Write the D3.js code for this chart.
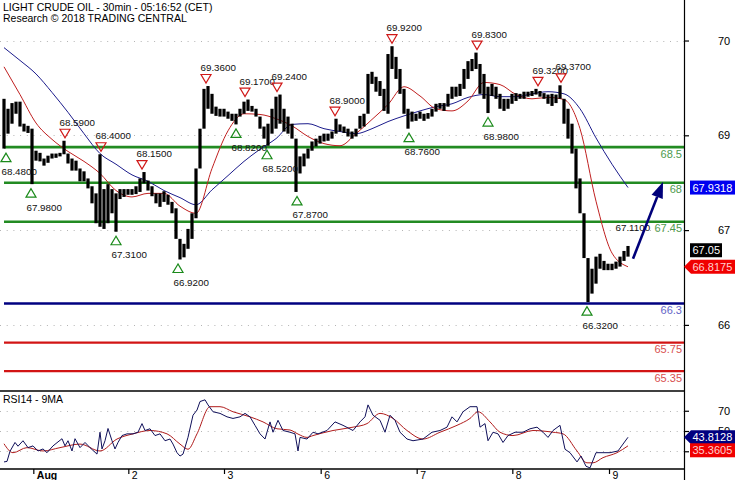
<!DOCTYPE html>
<html><head><meta charset="utf-8">
<script src="https://cdn.jsdelivr.net/npm/d3@7"></script>
<style>body{margin:0;background:#fff}svg{display:block}text{font-family:"Liberation Sans",Arial,sans-serif}</style>
</head><body><svg id="c" width="735" height="480"></svg>
<script>
// ---------------- DATA ----------------
const titleLine1 = "LIGHT CRUDE OIL - 30min - 05:16:52 (CET)";
const titleLine2 = "Research \u00A9 2018 TRADING CENTRAL";
const rsiTitle = "RSI14 - 9MA";
// price bars (2 x 30min bars per sample): highs and lows
const priceHi = [69.18,69.04,69.12,69.14,69.14,68.83,68.80,68.76,68.45,68.42,68.34,68.38,68.41,68.41,68.42,68.59,68.41,68.34,68.31,68.20,68.16,68.06,67.95,67.85,68.40,67.91,67.98,67.91,67.85,67.91,67.91,67.91,67.91,67.95,68.06,68.15,68.03,67.95,67.85,67.85,67.88,67.83,67.73,67.64,67.21,67.14,67.35,67.57,68.20,68.76,69.32,69.36,69.25,69.07,69.04,69.04,69.00,68.97,68.97,69.04,69.14,69.17,69.08,69.04,68.93,68.79,68.83,69.04,69.21,69.24,69.04,68.93,68.83,68.62,68.37,68.41,68.48,68.58,68.62,68.66,68.69,68.69,68.72,68.90,68.82,68.79,68.76,68.72,68.76,68.94,68.97,69.53,69.56,69.49,69.43,69.32,69.81,69.92,69.77,69.60,69.32,69.04,69.00,68.97,69.00,68.97,68.98,69.04,69.11,69.12,69.12,69.25,69.35,69.35,69.39,69.60,69.71,69.74,69.83,69.67,69.53,69.35,69.39,69.35,69.25,69.18,69.18,69.25,69.26,69.25,69.28,69.28,69.29,69.32,69.29,69.26,69.24,69.25,69.24,69.37,69.18,69.04,68.83,68.48,68.06,67.57,66.94,66.79,66.96,67.00,66.90,66.86,66.86,66.89,66.96,67.04,67.11];
const priceLo = [68.48,68.69,68.83,68.97,68.79,68.72,68.70,67.98,68.31,68.30,68.24,68.28,68.34,68.35,68.37,68.40,68.27,68.17,68.17,68.02,68.02,67.92,67.71,67.43,67.38,67.35,67.43,67.57,67.31,67.77,67.80,67.83,67.83,67.84,67.87,67.99,67.89,67.81,67.71,67.66,67.73,67.69,67.57,67.21,66.92,66.95,67.07,67.21,67.50,68.20,68.76,69.04,68.97,68.94,68.93,68.93,68.90,68.87,68.82,68.93,68.97,69.01,69.00,68.93,68.76,68.62,68.52,68.69,68.76,68.83,68.72,68.69,68.62,67.87,68.13,68.23,68.34,68.45,68.51,68.55,68.58,68.59,68.62,68.69,68.72,68.70,68.65,68.62,68.65,68.76,68.79,68.97,69.39,69.28,69.22,69.01,68.97,69.60,69.46,69.25,68.97,68.76,68.86,68.87,68.90,68.87,68.90,68.93,69.00,69.04,69.01,69.07,69.18,69.21,69.22,69.32,69.46,69.57,69.60,69.25,69.18,68.98,69.22,69.18,69.04,69.01,69.04,69.11,69.15,69.18,69.18,69.21,69.22,69.24,69.21,69.18,69.11,69.08,69.12,69.18,68.83,68.62,68.41,67.92,67.57,66.94,66.32,66.44,66.58,66.79,66.77,66.77,66.77,66.79,66.82,66.90,66.96];
// moving averages, one value every 4 samples
const maFast = [69.63,69.24,68.84,68.61,68.44,68.30,68.13,67.89,67.80,67.85,67.85,67.67,67.57,68.20,68.73,68.97,68.96,68.90,68.80,68.65,68.55,68.52,68.69,68.89,69.10,69.35,69.22,69.04,69.01,69.15,69.41,69.38,69.24,69.18,69.20,69.17,68.76,67.74,67.01,66.8175];
const maSlow = [69.90,69.72,69.53,69.27,68.99,68.69,68.41,68.26,68.11,68.02,67.89,67.79,67.69,67.90,68.10,68.30,68.47,68.62,68.82,68.83,68.76,68.72,68.69,68.76,68.86,68.94,69.01,69.07,69.11,69.20,69.24,69.21,69.21,69.25,69.28,69.25,69.04,68.63,68.26,67.9318];
// support / resistance levels
const levelValues = [68.5, 68, 67.45, 66.3, 65.75, 65.35];
const levelLabels = ["68.5", "68", "67.45", "66.3", "65.75", "65.35"];
const levelKinds  = ["res", "res", "res", "pivot", "sup", "sup"];
// swing high / low markers: sample index and value
const highIdx = [15.25, 24.25, 34.5, 50.5, 60.25, 68.25, 82.75, 97, 118.25, 133.5, 139.25];
const highVal = [68.59, 68.40, 68.15, 69.36, 69.17, 69.24, 68.90, 69.92, 69.83, 69.32, 69.37];
const lowIdx = [0.5, 6.75, 28, 43.5, 58, 65.75, 73.25, 101.25, 121, 145.75];
const lowVal = [68.48, 67.98, 67.31, 66.92, 68.82, 68.52, 67.87, 68.76, 68.98, 66.32];
const pendingHighIdx = 154.25, pendingHighVal = 67.11;
// forecast arrow: [index, price] start and end
const arrowFrom = [157.25, 66.93], arrowTo = [164.75, 68.01];
// last values
const lastPrice = 67.05;
// RSI14 and its 9MA: [sample index, value]
const rsiIdx = [0,0.75,1.5,2.75,3.5,4.75,6,7.25,8.5,9.75,10.75,12.25,14.5,15.25,16,17,17.75,19,20.25,21.5,23.25,24,24.5,25.25,26,27,27.75,28.5,29.5,30.75,32.25,33.5,34.5,35.25,36.5,37.75,39,40.25,41.5,42.25,43.25,44,44.75,46,47.25,48.25,49,50.25,51,52.25,54,55.75,57.25,59,60.25,61.5,62.75,64,65.25,66.5,67.25,68.5,69.75,71.5,72.75,73.5,74,75.75,77.25,78.5,80.75,82.75,84.75,87.25,89,90.25,91,92.25,94,95.25,96.5,97.75,99,100.75,102.25,104.75,107,109,110.75,112,113.25,114.75,116.5,118.25,119,120.25,121,122.25,123.5,124.75,126,127.75,129.75,131.5,133.25,134.75,136,137.25,139,140.25,141.5,143.25,144.25,145.5,146.5,148,149,151.5,153.5,154.75,156];
const rsiVal = [19.5,20,30,38.7,35,40.4,33.6,35.3,30.3,32.3,28.6,35.3,42.4,35.3,40.4,30.3,42.4,33.6,38.7,33.6,27.2,48.8,32.3,40.4,52.5,40.4,32.3,38.7,45.5,47.2,47.2,48.8,57.3,50.5,52.2,45.5,47.2,40.4,42.1,37.1,28.6,25.3,27.2,43.8,65.6,70.7,79.1,80.8,75.8,69,67.4,64,62.4,64,67.4,64,55.6,47.2,42.1,59,48.8,60.6,50.5,48.8,47.2,30.3,43.7,42.1,48.8,47.2,50.5,59,55.6,50.5,59,64,75.8,65.6,60.6,48.8,65.6,60.6,48.8,42.1,40.4,42.1,48.8,50.5,53.8,64,59,69,74,74,53.8,57.3,40.4,48.8,47.2,38.7,45.5,48.8,48.8,52.2,53.8,48.8,43.7,50.5,55.6,32,28.6,19.5,25.3,15.2,13.6,28.6,28.6,28.6,30.3,37.1,43.8128];
const rsiMaIdx = [0,2.25,5.75,9.75,14,19,24,28.25,32.25,36.5,40.75,44,46,48.25,51.5,54,57.25,61.5,64.75,68.25,71.5,73.5,75.75,77.25,82.25,87.25,90.75,94,97.25,100.75,104.75,109,113.25,116.5,118.5,121.5,124,127.25,132.25,137.25,139.75,143.25,145.75,147.25,149.75,153.25,156];
const rsiMaVal = [37.4,28.6,33.6,30.3,33.6,37.1,30.3,42.1,47.2,50.5,47.2,37.1,32,47.2,74,74,69,64,59,52.2,51,47,43.7,45.5,50.5,53.8,57.3,67.4,62.4,50.5,42.1,48.8,55.6,62.4,69,59,48.8,45.5,50.5,48.8,47.2,30.3,18.6,18.6,23.7,28.6,35.3605];
// axes
const priceTicks = [70, 68.6667, 67.3333, 66];
const priceTickLabels = ["70", "69", "67", "66"];
const rsiTicks = [70, 50, 30];
const dateTickIdx = [7.33, 31.08, 55, 79.17, 103.17, 127.08, 151.25];
const dateTickLabels = ["Aug", "2", "3", "6", "7", "8", "9"];

// ---------------- LAYOUT / STYLE ----------------
const axisX = 684, mainBottom = 391, rsiBottom = 469;
const col = {res: "#228b22", pivot: "#000080", sup: "#d21414"};
const labCol = {res: "#4e9a4e", pivot: "#6464c8", sup: "#d85050"};
const svg = d3.select("#c");
svg.append("rect").attr("width", 735).attr("height", 480).attr("fill", "#fff");

const x = d3.scaleLinear().domain([0, 156]).range([4, 628]);
const yP = d3.scaleLinear().domain([65.07, 70.57]).range([mainBottom, 0]);
const yR = d3.scaleLinear().domain([12.5, 89.5]).range([rsiBottom, mainBottom]);

const defs = svg.append("defs");
defs.append("clipPath").attr("id", "cm").append("rect").attr("x", 0).attr("y", 0).attr("width", axisX).attr("height", mainBottom);
defs.append("clipPath").attr("id", "cr").append("rect").attr("x", 0).attr("y", mainBottom).attr("width", axisX).attr("height", rsiBottom - mainBottom);

// grid
const grid = svg.append("g").attr("stroke", "#b4b4b4").attr("stroke-dasharray", "1,5.7");
priceTicks.forEach(v => grid.append("line").attr("x1", 0).attr("x2", axisX).attr("y1", Math.round(yP(v)) + 0.5).attr("y2", Math.round(yP(v)) + 0.5));
rsiTicks.forEach(v => grid.append("line").attr("x1", 0).attr("x2", axisX).attr("y1", Math.round(yR(v)) + 0.5).attr("y2", Math.round(yR(v)) + 0.5));

const main = svg.append("g").attr("clip-path", "url(#cm)");
// levels
levelValues.forEach((v, i) => {
  main.append("line").attr("x1", 4).attr("x2", axisX).attr("y1", yP(v)).attr("y2", yP(v))
    .attr("stroke", col[levelKinds[i]]).attr("stroke-width", levelKinds[i] === "sup" ? 2.2 : 2.6);
});
// MAs
const sampleStep = 4;
const lineFast = d3.line().x((d, i) => x(i * sampleStep)).y(d => yP(d)).curve(d3.curveMonotoneX);
main.append("path").attr("d", lineFast(maSlow)).attr("fill", "none").attr("stroke", "#1c1c8c").attr("stroke-width", 1);
main.append("path").attr("d", lineFast(maFast)).attr("fill", "none").attr("stroke", "#c02020").attr("stroke-width", 1);
// price bars
main.append("g").selectAll("rect").data(priceHi).join("rect")
  .attr("x", (d, i) => x(i) - 1.6).attr("width", 3.2)
  .attr("y", d => yP(d)).attr("height", (d, i) => Math.max(1.5, yP(priceLo[i]) - yP(d)))
  .attr("fill", "#000");

// level labels
levelValues.forEach((v, i) => {
  svg.append("text").attr("x", 682).attr("y", yP(v) + 10.5).attr("text-anchor", "end")
    .attr("font-size", 11).attr("fill", labCol[levelKinds[i]]).text(levelLabels[i]);
});

// markers
const fmt = d3.format(".4f");
highIdx.forEach((t, i) => {
  const cx = x(t), tip = yP(highVal[i]) - 3;
  svg.append("path").attr("d", `M${cx - 5},${tip - 8.5}L${cx + 5},${tip - 8.5}L${cx},${tip}Z`)
    .attr("fill", "none").attr("stroke", "#d01818").attr("stroke-width", 1.2);
  svg.append("text").attr("x", cx - 5.5).attr("y", tip - 12).attr("font-size", 9.8).attr("fill", "#111").text(fmt(highVal[i]));
});
svg.append("text").attr("x", x(pendingHighIdx) - 5.5).attr("y", yP(pendingHighVal) - 15).attr("font-size", 9.8).attr("fill", "#111").text(fmt(pendingHighVal));
lowIdx.forEach((t, i) => {
  const cx = x(t), tip = yP(lowVal[i]) + 4.5;
  svg.append("path").attr("d", `M${cx},${tip}L${cx - 5},${tip + 8.5}L${cx + 5},${tip + 8.5}Z`)
    .attr("fill", "none").attr("stroke", "#1a8a1a").attr("stroke-width", 1.2);
  svg.append("text").attr("x", cx - 4.5).attr("y", tip + 22).attr("font-size", 9.8).attr("fill", "#111").text(fmt(lowVal[i]));
});

// arrow
{
  const x1 = x(arrowFrom[0]), y1 = yP(arrowFrom[1]), x2 = x(arrowTo[0]), y2 = yP(arrowTo[1]);
  const ang = Math.atan2(y2 - y1, x2 - x1), L = 16, Wd = 6;
  const bx = x2 - L * Math.cos(ang), by = y2 - L * Math.sin(ang);
  svg.append("line").attr("x1", x1).attr("y1", y1).attr("x2", bx).attr("y2", by).attr("stroke", "#00007a").attr("stroke-width", 2.6);
  const px = -Math.sin(ang) * Wd, py = Math.cos(ang) * Wd;
  svg.append("path").attr("d", `M${x2},${y2}L${bx + px},${by + py}L${bx - px},${by - py}Z`).attr("fill", "#00007a");
}

// RSI
const rsiG = svg.append("g").attr("clip-path", "url(#cr)");
const rl = d3.line().x(d => x(d[0])).y(d => yR(d[1])).curve(d3.curveLinear);
rsiG.append("path").attr("d", d3.line().x(d => x(d[0])).y(d => yR(d[1])).curve(d3.curveMonotoneX)(rsiMaIdx.map((t, i) => [t, rsiMaVal[i]])))
  .attr("fill", "none").attr("stroke", "#b01c1c").attr("stroke-width", 1);
rsiG.append("path").attr("d", rl(rsiIdx.map((t, i) => [t, rsiVal[i]])))
  .attr("fill", "none").attr("stroke", "#10105a").attr("stroke-width", 1);

// frame
svg.append("line").attr("x1", 0).attr("x2", axisX).attr("y1", mainBottom).attr("y2", mainBottom).attr("stroke", "#000").attr("stroke-width", 1.6);
svg.append("line").attr("x1", 0).attr("x2", axisX).attr("y1", rsiBottom).attr("y2", rsiBottom).attr("stroke", "#000").attr("stroke-width", 1.6);
svg.append("line").attr("x1", axisX + 0.5).attr("x2", axisX + 0.5).attr("y1", 0).attr("y2", 480).attr("stroke", "#000").attr("stroke-width", 1.2);

// axes
const pAxis = d3.axisRight(yP).tickValues(priceTicks).tickFormat((d, i) => priceTickLabels[i]).tickSize(5).tickPadding(29);
const gp = svg.append("g").attr("transform", `translate(${axisX},0)`).call(pAxis);
const rAxis = d3.axisRight(yR).tickValues(rsiTicks).tickFormat(d3.format("d")).tickSize(5).tickPadding(29);
const gr = svg.append("g").attr("transform", `translate(${axisX},0)`).call(rAxis);
[gp, gr].forEach(g => { g.select(".domain").remove(); g.selectAll("text").attr("font-size", 11).attr("font-family", "Liberation Sans, Arial, sans-serif"); g.selectAll("line").attr("stroke-width", 1.2); });
const dAxis = d3.axisBottom(x).tickValues(dateTickIdx).tickFormat((d, i) => dateTickLabels[i]).tickSize(5).tickPadding(1);
const gd = svg.append("g").attr("transform", `translate(0,${rsiBottom})`).call(dAxis);
gd.select(".domain").remove();
gd.selectAll("line").attr("stroke-width", 1.2);
gd.selectAll("text").attr("text-anchor", "start").attr("dx", 3).attr("y", 3).attr("font-size", 10.5)
  .attr("font-family", "Liberation Sans, Arial, sans-serif")
  .attr("font-weight", (d, i) => i === 0 ? "bold" : "normal");

// value boxes on axis
function box(yc, txt, bg, fg, arrow, w) {
  const g = svg.append("g");
  if (arrow) g.append("path").attr("d", `M${axisX},${yc}L${axisX + 7},${yc - 7}L735,${yc - 7}L735,${yc + 7}L${axisX + 7},${yc + 7}Z`).attr("fill", bg);
  else g.append("rect").attr("x", 690).attr("y", yc - 7).attr("width", w).attr("height", 14).attr("fill", bg);
  g.append("text").attr("x", 692.5).attr("y", yc + 4).attr("font-size", 11).attr("fill", fg).text(txt);
}
box(yP(maSlow[maSlow.length - 1]), fmt(maSlow[maSlow.length - 1]), "#0000f0", "#fff", false, 45);
box(yP(lastPrice), d3.format(".2f")(lastPrice), "#000", "#fff", false, 32);
box(yP(maFast[maFast.length - 1]), fmt(maFast[maFast.length - 1]), "#f00000", "#ffd0d0", true);
const rLast = yR(rsiVal[rsiVal.length - 1]);
box(rLast, fmt(rsiVal[rsiVal.length - 1]), "#000080", "#fff", true);
box(Math.max(yR(rsiMaVal[rsiMaVal.length - 1]), rLast + 13), fmt(rsiMaVal[rsiMaVal.length - 1]), "#f00000", "#ffd0d0", false, 45);

// titles
svg.append("text").attr("x", 3).attr("y", 11).attr("font-size", 10.5).attr("fill", "#000").text(titleLine1);
svg.append("text").attr("x", 3).attr("y", 22).attr("font-size", 10.5).attr("fill", "#000").text(titleLine2);
svg.append("text").attr("x", 3).attr("y", 403).attr("font-size", 10.5).attr("fill", "#000").text(rsiTitle);
</script></body></html>
